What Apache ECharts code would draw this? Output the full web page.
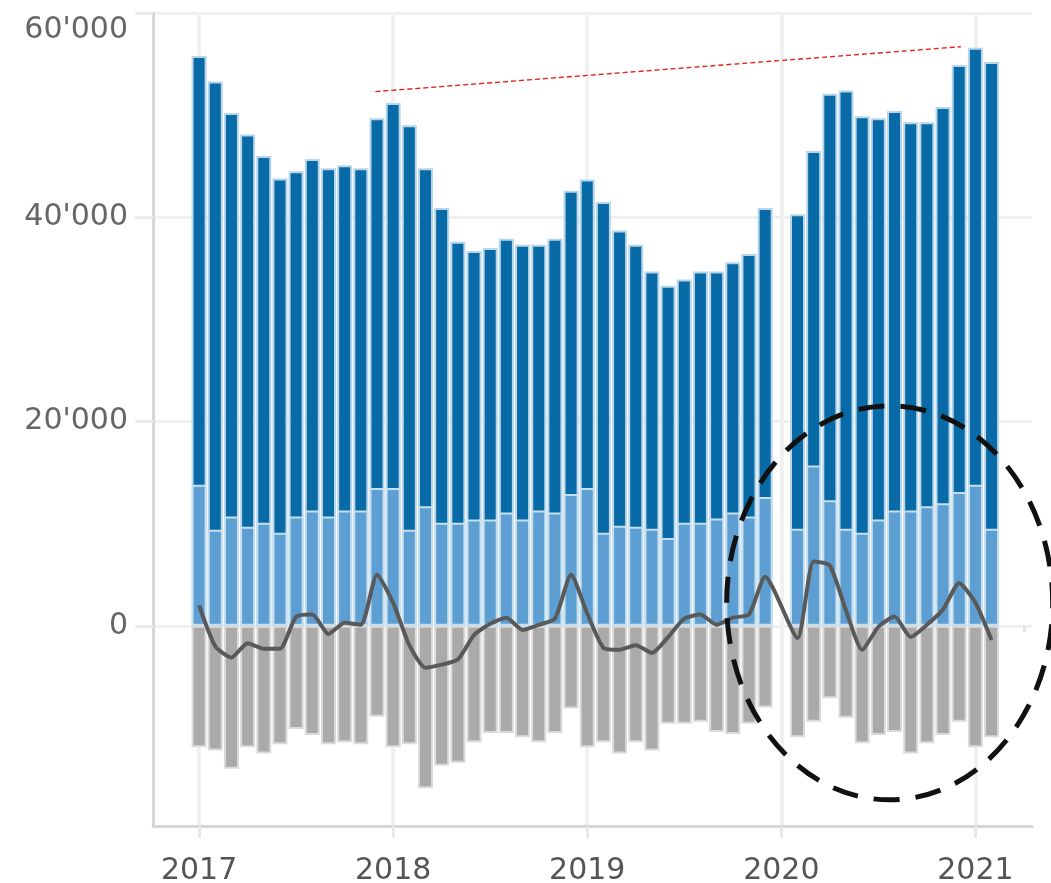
<!DOCTYPE html>
<html lang="en">
<head>
    <meta charset="UTF-8">
    <title>Monthly volumes 2017-2021</title>
    <style>
        html, body { margin: 0; padding: 0; background: #fff; }
        #chart { width: 1051px; height: 883px; }
    </style>
</head>
<body>
<div id="chart"></div>
<script src="https://cdn.jsdelivr.net/npm/echarts@6/dist/echarts.min.js"></script>
<script>
    // month index 0 = 2017-01 ... 49 = 2021-02 (2020-01 has no data)
    var yearTicks = [0, 12, 24, 36, 48];
    var yearLabels = ['2017', '2018', '2019', '2020', '2021'];
    var quarterTicks = [3, 6, 9, 15, 18, 21, 27, 30, 33, 39, 42, 45, 51];
    var valueTicks = [0, 20000, 40000, 60000];

    // top of dark blue bars (total)
    var totalBlue = [
        55800, 53300, 50200, 48100, 46000, 43800, 44500, 45700, 44800, 45100, 44800, 49700,
        51200, 49000, 44800, 40900, 37600, 36700, 37000, 37900, 37300, 37300, 37900, 42600,
        43700, 41500, 38700, 37300, 34700, 33300, 33900, 34700, 34700, 35600, 36400, 40900,
        null, 40300, 46500, 52100, 52400, 49900, 49700, 50400, 49300, 49300, 50800, 54900,
        56600, 55200
    ];
    // light blue part (bottom of the bar)
    var lowerBlue = [
        13800, 9400, 10700, 9700, 10100, 9100, 10700, 11300, 10700, 11300, 11300, 13500,
        13500, 9400, 11700, 10100, 10100, 10400, 10400, 11100, 10400, 11300, 11100, 12900,
        13500, 9100, 9800, 9700, 9500, 8600, 10100, 10100, 10500, 11100, 10700, 12600,
        null, 9500, 15700, 12300, 9500, 9100, 10400, 11300, 11300, 11700, 12000, 13100,
        13800, 9500
    ];
    // grey negative bars
    var greyNeg = [
        -11900, -12200, -14000, -11900, -12500, -11600, -10100, -10700, -11600, -11400, -11600, -8900,
        -11900, -11600, -15900, -13700, -13400, -11400, -10500, -10500, -10900, -11400, -10500, -8100,
        -11900, -11400, -12500, -11400, -12200, -9600, -9600, -9400, -10400, -10600, -9600, -8000,
        null, -10900, -9400, -7100, -9000, -11500, -10700, -10400, -12500, -11500, -10700, -9400,
        -11900, -10900
    ];
    // dark grey line
    var netLine = [
        2000, -2000, -3100, -1700, -2250, -2250, 900, 1100, -800, 300, 100, 5000,
        2250, -1900, -4100, -3800, -3300, -900, 200, 800, -400, 100, 700, 5000,
        1200, -2150, -2350, -1900, -2650, -1100, 700, 1100, 100, 800, 1100, 4800,
        null, -1200, 6300, 5900, 1500, -2350, -100, 900, -1100, 100, 1600, 4200,
        2250, -1400
    ];
    // red dashed trend between peaks [monthIndex, value]
    var trendLine = [[10.9, 52300], [47.1, 56700]];
    // dashed ellipse annotation centre [monthIndex, value]
    var ringCentre = [42.7, 2250];

    function pairs(arr) {
        var out = [];
        for (var i = 0; i < arr.length; i++) {
            out.push([i, arr[i]]);
        }
        return out;
    }

    function fmtThousands(v) {
        var s = String(Math.abs(v));
        if (s.length > 3) s = s.slice(0, s.length - 3) + "'" + s.slice(s.length - 3);
        return s;
    }

    var myChart = echarts.init(document.getElementById('chart'));
    var font = 'DejaVu Sans';
    var xMin = -2.85, xMax = 51.5;

    var option = {
        animation: false,
        grid: { left: 153, right: 19, top: 13, bottom: 57, outerBoundsMode: 'none' },
        xAxis: [{
            type: 'value',
            min: xMin,
            max: xMax,
            axisLine: { show: true, onZero: false, lineStyle: { color: '#d6d6d6', width: 3 } },
            axisTick: { show: true, customValues: yearTicks, length: 12, lineStyle: { color: '#e8e8e8', width: 3 } },
            axisLabel: {
                customValues: yearTicks,
                formatter: function (v) { return yearLabels[yearTicks.indexOf(v)] || ''; },
                color: '#555', fontSize: 30, fontFamily: font, margin: 30
            },
            splitLine: { show: true, lineStyle: { color: '#f1f1f1', width: 4 } }
        }, {
            type: 'value',
            min: xMin,
            max: xMax,
            position: 'bottom',
            axisLine: { show: false },
            axisTick: { show: true, customValues: quarterTicks, length: 6, lineStyle: { color: '#e4e4e4', width: 3 } },
            axisLabel: { show: false },
            splitLine: { show: false }
        }],
        yAxis: {
            type: 'value',
            min: -19600,
            max: 60000,
            axisLine: { show: true, onZero: false, lineStyle: { color: '#d6d6d6', width: 3 } },
            axisTick: { show: true, customValues: valueTicks, length: 18, lineStyle: { color: '#ececec', width: 3 } },
            axisLabel: {
                customValues: valueTicks,
                color: '#666', fontSize: 30, fontFamily: font, margin: 25,
                formatter: function (v) {
                    if (v === 60000) return '{t|' + fmtThousands(v) + '}';
                    return fmtThousands(v);
                },
                rich: { t: { color: '#666', fontSize: 30, fontFamily: font, padding: [34, 0, 0, 0] } }
            },
            splitLine: { show: true, lineStyle: { color: '#f0f0f0', width: 3 } }
        },
        series: [
            {
                name: 'total',
                type: 'bar',
                barWidth: 15,
                barGap: '-100%',
                data: pairs(totalBlue),
                itemStyle: { color: '#086aa6', borderColor: '#b8d6e9', borderWidth: 2 }
            },
            {
                name: 'lower',
                type: 'bar',
                barWidth: 15,
                barGap: '-100%',
                data: pairs(lowerBlue),
                itemStyle: { color: '#5e9fd3', borderColor: '#c6dfee', borderWidth: 2 }
            },
            {
                name: 'negative',
                type: 'bar',
                barWidth: 15,
                barGap: '-100%',
                data: pairs(greyNeg),
                itemStyle: { color: '#aaaaaa', borderColor: '#dadada', borderWidth: 2 }
            },
            {
                name: 'net',
                type: 'line',
                data: pairs(netLine),
                connectNulls: true,
                smooth: 0.2,
                symbol: 'none',
                z: 5,
                lineStyle: { color: '#595959', width: 4 },
                markLine: {
                    silent: true,
                    symbol: ['none', 'none'],
                    label: { show: false },
                    lineStyle: { color: '#e8241c', type: [5, 3], width: 1.4 },
                    data: [[{ coord: trendLine[0] }, { coord: trendLine[1] }]]
                }
            }
        ]
    };

    myChart.setOption(option);

    var c = myChart.convertToPixel({ xAxisIndex: 0, yAxisIndex: 0 }, ringCentre);
    myChart.setOption({
        graphic: [{
            type: 'ellipse',
            z: 100,
            silent: true,
            shape: { cx: c[0], cy: c[1], rx: 163, ry: 197 },
            style: { fill: 'none', stroke: '#111', lineWidth: 5, lineDash: [26, 16] }
        }]
    });
</script>
</body>
</html>
